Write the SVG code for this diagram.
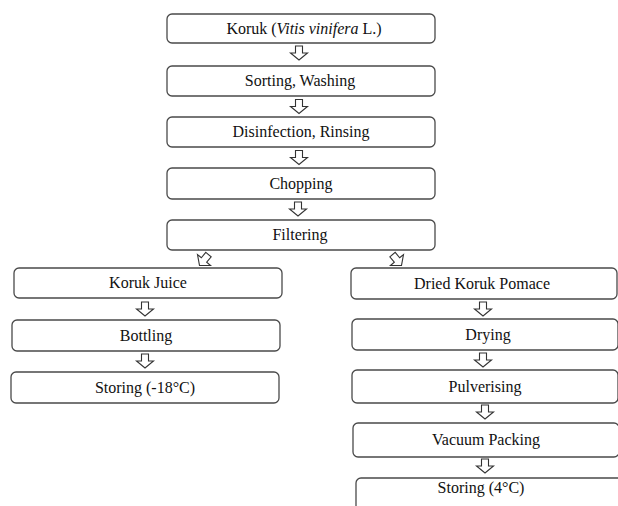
<svg xmlns="http://www.w3.org/2000/svg" width="618" height="506" viewBox="0 0 618 506">
<defs>
<style>
.box{fill:#fff;stroke:#4a4a4a;stroke-width:1.3}
.t{font-family:"Liberation Serif","Times New Roman",serif;font-size:16px;fill:#111;text-anchor:middle}
.arr{fill:#fff;stroke:#333;stroke-width:1.1;stroke-linejoin:miter}
</style>
<path id="a" class="arr" d="M-3.5,-7 H3.5 V0 H8.5 L0,7 L-8.5,0 H-3.5 Z"/>
</defs>
<rect width="618" height="506" fill="#fff"/>
<g id="n1"><rect class="box" x="167" y="14" width="268" height="29" rx="5"/><text class="t" x="304" y="33.5">Koruk (<tspan font-style="italic">Vitis vinifera</tspan> L.)</text></g>
<g id="n2"><rect class="box" x="167" y="66" width="268" height="30" rx="5"/><text class="t" x="300" y="86">Sorting, Washing</text></g>
<g id="n3"><rect class="box" x="167" y="117" width="268" height="30" rx="5"/><text class="t" x="301" y="137">Disinfection, Rinsing</text></g>
<g id="n4"><rect class="box" x="167" y="168" width="268" height="31" rx="5"/><text class="t" x="301" y="188.5">Chopping</text></g>
<g id="n5"><rect class="box" x="167" y="220" width="268" height="30" rx="5"/><text class="t" x="300" y="240">Filtering</text></g>
<g id="n6"><rect class="box" x="14" y="268" width="268" height="30" rx="5"/><text class="t" x="148" y="288">Koruk Juice</text></g>
<g id="n7"><rect class="box" x="12" y="320" width="268" height="31" rx="5"/><text class="t" x="146" y="340.5">Bottling</text></g>
<g id="n8"><rect class="box" x="11" y="372" width="268" height="31" rx="5"/><text class="t" x="145" y="392.5">Storing (-18°C)</text></g>
<g id="n9"><rect class="box" x="351" y="268" width="266" height="31" rx="5"/><text class="t" x="482" y="288.5">Dried Koruk Pomace</text></g>
<g id="n10"><rect class="box" x="352" y="319" width="266" height="31" rx="5"/><text class="t" x="488" y="339.5">Drying</text></g>
<g id="n11"><rect class="box" x="352" y="370" width="266" height="33" rx="5"/><text class="t" x="485" y="391.5">Pulverising</text></g>
<g id="n12"><rect class="box" x="353" y="423" width="266" height="34" rx="5"/><text class="t" x="486" y="445">Vacuum Packing</text></g>
<g id="n13"><rect class="box" x="356" y="478" width="270" height="40" rx="5"/><text class="t" x="481" y="493">Storing (4°C)</text></g>
<g id="connectors">
<use href="#a" x="299" y="53"/>
<use href="#a" x="299" y="106.5"/>
<use href="#a" x="299" y="157.5"/>
<use href="#a" x="298" y="209"/>
<use href="#a" transform="translate(204,260) rotate(40)"/>
<use href="#a" transform="translate(397,260) rotate(-40)"/>
<use href="#a" x="145" y="309"/>
<use href="#a" x="145" y="361"/>
<use href="#a" x="483" y="309"/>
<use href="#a" x="483" y="360"/>
<use href="#a" x="485" y="412"/>
<use href="#a" x="485" y="466"/>
</g>
</svg>
